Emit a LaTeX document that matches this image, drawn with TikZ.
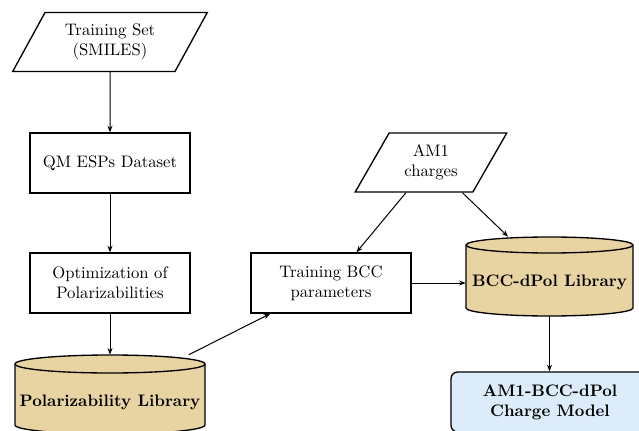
\documentclass[tikz,border=0pt]{standalone}
\usetikzlibrary{shapes.geometric,arrows.meta}
\definecolor{libtan}{RGB}{232,212,162}
\definecolor{modelblue}{RGB}{221,236,250}
\tikzset{
  x=0.6pt, y=0.6pt,
  every node/.style={font=\normalsize, align=center},
  procbox/.style={draw, line width=0.8pt, minimum width=96pt, minimum height=36pt, inner sep=2pt},
  iobox/.style={draw, line width=0.8pt, trapezium, trapezium left angle=59.3, trapezium right angle=120.7,
     trapezium stretches=true, inner sep=1pt},
  anchorbox/.style={draw=none, rectangle, inner sep=0pt},
  cylpath/.style={draw, line width=0.8pt, fill=libtan},
  conn/.style={line width=0.6pt, -{Stealth[length=4pt,width=3pt]}},
  modelbox/.style={draw, line width=0.8pt, fill=modelblue, rounded corners=4pt, minimum width=118.8pt, minimum height=36pt}
}
\begin{document}
\begin{tikzpicture}
\useasboundingbox (0,0) rectangle (639,430);
\clip (0,0) rectangle (639,430);
% input parallelograms
\node[iobox, minimum width=117.6pt, minimum height=35.4pt] (ts) at (110,388) {Training Set\\(SMILES)};
\node[iobox, minimum width=91.2pt, minimum height=35.4pt] (am1) at (431,267.5) {AM1\\charges};
% process boxes
\node[procbox] (qm) at (110,267) {QM ESPs Dataset};
\node[procbox] (opt) at (110,147) {Optimization of\\Polarizabilities};
\node[procbox] (tbcc) at (331,147) {Training BCC\\parameters};
% Polarizability library cylinder
\node[anchorbox, minimum width=114pt, minimum height=47.4pt] (pol) at (110,35.5) {};
\path[cylpath] (15,66) -- (15,5) arc[start angle=180, end angle=360, x radius=95, y radius=9]
   -- (205,66) arc[start angle=0, end angle=180, x radius=95, y radius=9] -- cycle;
\draw[line width=0.8pt] (15,66) arc[start angle=180, end angle=360, x radius=95, y radius=9];
\node[font=\bfseries] (poltext) at (110,28) {Polarizability Library};
% BCC-dPol library cylinder
\node[anchorbox, minimum width=100.2pt, minimum height=47.4pt] (bcc) at (549.5,153.5) {};
\path[cylpath] (466,185) -- (466,122) arc[start angle=180, end angle=360, x radius=83.5, y radius=8]
   -- (633,185) arc[start angle=0, end angle=180, x radius=83.5, y radius=8] -- cycle;
\draw[line width=0.8pt] (466,185) arc[start angle=180, end angle=360, x radius=83.5, y radius=8];
\node[font=\bfseries] (bcctext) at (549.5,148) {BCC-dPol Library};
% final model
\node[modelbox] (model) at (550,28) {\bfseries AM1-BCC-dPol\\\bfseries Charge Model};
% connectors
\draw[conn] (ts) -- (qm);
\draw[conn] (qm) -- (opt);
\draw[conn] (opt) -- (pol.north);
\draw[conn] (pol) -- (tbcc);
\draw[conn] (am1) -- (tbcc);
\draw[conn] (am1) -- (bcc);
\draw[conn] (tbcc.east) -- (tbcc.east -| bcc.west);
\draw[conn] (bcc.south) -- (bcc.south |- model.north);
\end{tikzpicture}
\end{document}
